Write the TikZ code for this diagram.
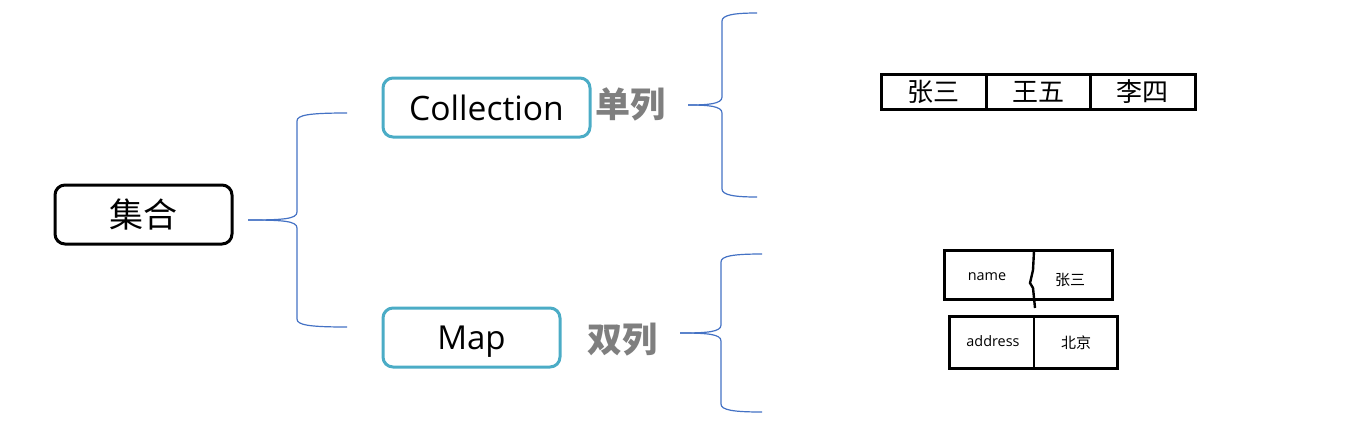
\documentclass[tikz,border=0pt]{standalone}
\usepackage{fontspec}
\setmainfont{Open Sans}
\newfontfamily\cjk{Noto Sans CJK SC}
\definecolor{kuang}{RGB}{75,172,198}
\definecolor{xian}{RGB}{68,114,196}
\definecolor{hui}{RGB}{127,127,127}
% brace: tip x, tip y, vertical x, top y, bottom y, end x
\newcommand\kuohao[6]{%
	\draw[xian,line width=.6pt] (#1,#2) .. controls (#3-14,#2) and (#3,#2-1) .. (#3,#2-8) -- (#3,#4+8)
	.. controls (#3,#4+2) and (#3+12,#4) .. (#6,#4);
	\draw[xian,line width=.6pt] (#1,#2) .. controls (#3-14,#2) and (#3,#2+1) .. (#3,#2+8) -- (#3,#5-8)
	.. controls (#3,#5-2) and (#3+12,#5) .. (#6,#5);
}
\begin{document}
\begin{tikzpicture}[x=.5pt,y=-.5pt,
	hezi/.style={draw,line width=1.5pt,rounded corners=5pt,inner sep=0pt,minimum height=29.5pt},
	lei/.style={hezi,draw=kuang},
	ge/.style={draw,line width=1.5pt,inner sep=0pt,minimum width=52.5pt,minimum height=17.5pt,font=\cjk\fontsize{13pt}{13pt}\selectfont},
	zi/.style={inner sep=0pt,font=\fontsize{7.2pt}{8pt}\selectfont},
	hz/.style={inner sep=0pt,font=\cjk\fontsize{7.5pt}{8pt}\selectfont},
	lie/.style={inner sep=0pt,text=hui,font=\cjk\bfseries\fontsize{17.5pt}{18pt}\selectfont}]
	\useasboundingbox (0,0) rectangle (1368,424);
	\node[hezi,minimum width=88.5pt,font=\cjk\fontsize{17pt}{17pt}\selectfont] (jihe) at (143.5,214.5) {集合};
	\node[lei,minimum width=103.5pt,font=\fontsize{16.8pt}{17pt}\selectfont] (coll) at (486.5,107.5) {Collection};
	\node[lei,minimum width=88.5pt,text depth=0pt,font=\fontsize{16.5pt}{17pt}\selectfont] (map) at (471.5,337.5) {Map};
	\node[lie] (danlie) at (630,104) {单列};
	\node[lie] (shuanglie) at (622,340) {双列};
	\kuohao{248}{220}{297}{113}{327}{347}
	\kuohao{688}{105}{722}{13}{197}{757}
	\kuohao{680}{333}{721}{254}{412}{762}
	% single column
	\node[ge] (zs) at (933.5,91.5) {张三};
	\node[ge,minimum width=52pt] (ww) at (1038,91.5) {王五};
	\node[ge] (ls) at (1142.5,91.5) {李四};
	% key value
	\draw[line width=1.5pt] (944,250) rectangle (1112,299);
	\draw[line width=1.5pt] (949,316) rectangle (1117,368);
	\draw[line width=1.2pt] (1034,251) -- (1033,270) -- (1030,283) -- (1033,288) -- (1035,308);
	\draw[line width=1.2pt] (1034,317) -- (1034,367);
	\node[zi] (k1) at (987,277) {name};
	\node[hz] (v1) at (1070,280) {张三};
	\node[zi] (k2) at (993,341) {address};
	\node[hz] (v2) at (1076,343) {北京};
\end{tikzpicture}
\end{document}
